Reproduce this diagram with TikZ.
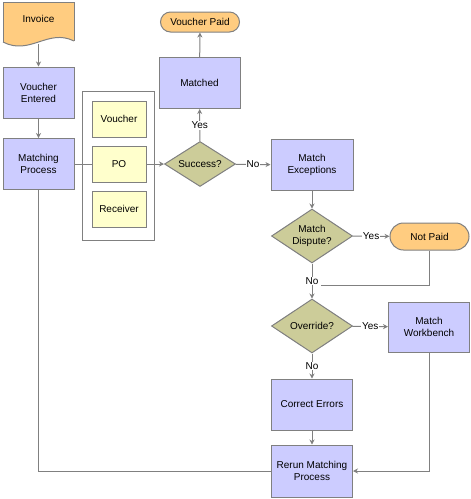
\documentclass[tikz,border=0pt]{standalone}
\usepackage{fontspec}
\setmainfont{Liberation Sans}
\usetikzlibrary{shapes.geometric,shapes.misc,arrows.meta}

\definecolor{boxblue}{HTML}{CCCCFF}
\definecolor{boxyellow}{HTML}{FFFFCC}
\definecolor{boxolive}{HTML}{CCCC99}
\definecolor{boxorange}{HTML}{FFCC80}
\definecolor{edgegray}{HTML}{808080}

\begin{document}
\begin{tikzpicture}[x=1pt, y=-1pt, line width=1pt]
\tikzstyle{every node}=[font=\fontsize{10}{12}\selectfont, align=center, inner sep=1pt]
\tikzstyle{proc}=[rectangle, draw=edgegray, fill=boxblue, minimum width=81pt, minimum height=51pt]
\tikzstyle{doc}=[rectangle, draw=edgegray, fill=boxyellow, minimum width=54pt, minimum height=36pt]
\tikzstyle{term}=[rounded rectangle, draw=edgegray, fill=boxorange, minimum width=81pt]
\tikzstyle{decide}=[diamond, draw=edgegray, fill=boxolive, inner sep=0pt, shape aspect=1.5, minimum width=81pt, minimum height=54pt]
\tikzstyle{lbl}=[fill=white, inner sep=1pt]
\tikzstyle{arr}=[draw=edgegray, -{Stealth[length=5pt,width=5pt]}]
\tikzstyle{ln}=[draw=edgegray]

\useasboundingbox (0,0) rectangle (471,499);

% invoice document shape
\fill[boxorange] (3,2) -- (74,2) -- (74,41) .. controls (48,28) and (30,56) .. (3,42) -- cycle;
\draw[edgegray] (3,42) -- (3,2) -- (74,2) -- (74,41);
\draw[edgegray] (74,41) .. controls (48,28) and (30,56) .. (3,42);
\node (inv) at (38.5,19) {Invoice};
\coordinate (invb) at (38.5,44);

% left column
\node[proc, minimum width=71pt] (ve) at (38.5,92.5) {Voucher\\Entered};
\node[proc, minimum width=71pt] (mp) at (38.5,164) {Matching\\Process};

% matching documents
\node[rectangle, draw=edgegray, minimum width=72pt, minimum height=149pt] (grp) at (118,165.5) {};
\node[doc] (vc) at (119,119) {Voucher};
\node[doc] (po) at (119,164) {PO};
\node[doc] (rc) at (119,209) {Receiver};

% success branch
\node[decide, shape aspect=1.58, minimum width=71pt, minimum height=45pt] (sc) at (200,164) {Success?};
\node[proc] (mt) at (199.5,83) {Matched};
\node[term, minimum height=20pt] (vp) at (200,22) {Voucher Paid};

% exception branch
\node[proc, minimum width=82pt] (me) at (312,165) {Match\\Exceptions};
\node[decide] (md) at (312,236) {Match\\Dispute?};
\node[term, minimum height=27pt] (np) at (429.5,236.5) {Not Paid};
\node[decide] (ov) at (312,326) {Override?};
\node[proc, minimum height=50pt] (mw) at (429,327) {Match\\Workbench};
\node[proc] (ce) at (312,404.5) {Correct Errors};
\node[proc, minimum height=52pt] (rr) at (312,471) {Rerun Matching\\Process};
\coordinate (j1) at (321,285);

\draw[arr] (invb) -- (ve);
\draw[arr] (ve) -- (mp);
\draw[ln] (mp) -- (po);
\draw[arr] (po) -- (sc);
\draw[arr] (sc) -- node[lbl] {Yes} (mt);
\draw[arr] (mt) -- (vp);
\draw[arr] (sc) -- node[lbl] {No} (me);
\draw[arr] (me) -- (md);
\draw[arr] (md) -- node[lbl] {Yes} (np);
\draw[ln] (np) |- (j1);
\draw[arr] (md) -- node[lbl] {No} (ov);
\draw[arr] (ov) -- node[lbl] {Yes} (mw);
\draw[arr] (ov) -- node[lbl] {No} (ce);
\draw[arr] (ce) -- (rr);
\draw[arr] (mw) |- (rr);
\draw[ln] (mp) |- (rr);
\end{tikzpicture}
\end{document}
